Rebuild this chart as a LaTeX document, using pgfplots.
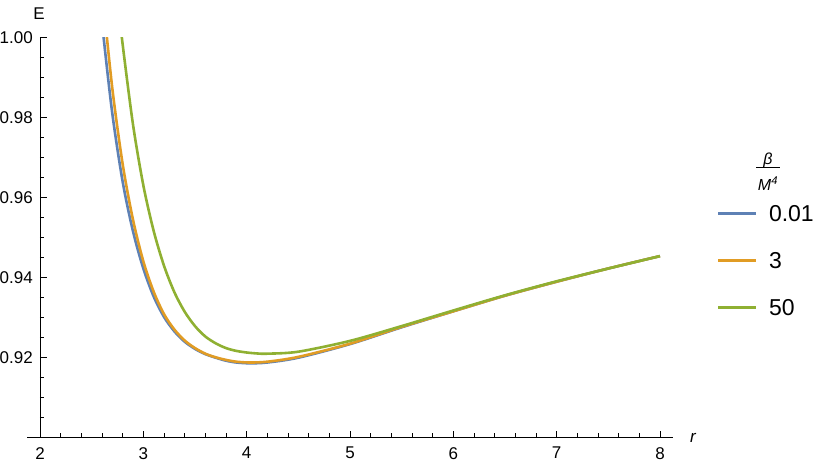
\documentclass[border=0pt]{standalone}
\usepackage{fontspec}
\setmainfont{Liberation Sans}
\usepackage{pgfplots}
\pgfplotsset{compat=1.18}
\definecolor{mblue}{rgb}{0.368417,0.506779,0.709798}
\definecolor{morange}{rgb}{0.880722,0.611041,0.142051}
\definecolor{mgreen}{rgb}{0.560181,0.691569,0.194885}
% legend key: a short line, then the value
\newcommand{\key}[2]{\textcolor{#1}{\rule[6.9pt]{38pt}{2.6pt}}\hspace{13pt}#2}

\begin{document}
\begin{tikzpicture}
\begin{axis}[
  at={(0pt,0pt)}, anchor=south west,
  scale only axis, width=633pt, height=400pt,
  xmin=2, xmax=8.126, ymin=0.9, ymax=1.0,
  axis x line=bottom, axis y line=left,
  axis line style={-, line width=0.9pt},
  tick align=inside,
  major tick length=7pt, minor tick length=4.3pt,
  every tick/.style={black, line width=0.7pt},
  xtick={2,3,4,5,6,7,8}, minor x tick num=4,
  ytick={0.92,0.94,0.96,0.98,1.00},
  minor ytick={0.905,0.91,0.915,0.925,0.93,0.935,0.945,0.95,0.955,0.965,0.97,0.975,0.985,0.99,0.995},
  /pgf/number format/assume math mode=true,
  yticklabel style={/pgf/number format/fixed, /pgf/number format/precision=2,
    /pgf/number format/fixed zerofill, anchor=east, inner sep=0pt, xshift=-7pt},
  xticklabel style={anchor=north, inner sep=0pt, yshift=-9.3pt},
  tick label style={font=\fontsize{17}{17}\selectfont},
  xlabel={\textit{r}}, ylabel={E},
  every axis x label/.style={at={(axis description cs:1,0)}, anchor=base west,
    inner sep=0pt, xshift=17pt, yshift=-5.3pt, font=\fontsize{17}{17}\selectfont},
  every axis y label/.style={at={(axis description cs:0,1)}, anchor=base,
    inner sep=0pt, xshift=-1pt, yshift=17.7pt, font=\fontsize{17}{17}\selectfont},
  legend style={at={(axis description cs:1.0711,0.5818)}, anchor=north west,
    draw=none, fill=none, inner sep=0pt, outer sep=0pt,
    font=\fontsize{23}{23}\selectfont, row sep=30.5pt, column sep=0pt,
    nodes={inner sep=0pt, text height=16.5pt, text depth=0pt}},
  legend cell align=left,
  legend image code/.code={},
]
\addplot[mblue, line width=2.6pt, smooth] table {
2.58  1.0095
2.612 1.0009
2.70  0.9810
2.80  0.9640
2.90  0.9516
3.00  0.9423
3.10  0.9353
3.20  0.9302
3.30  0.9266
3.40  0.9240
3.50  0.9222
3.60  0.9209
3.70  0.9200
3.80  0.91925
3.90  0.9188
4.03  0.9186
4.20  0.9188
4.50  0.9200
5.00  0.9234
5.50  0.9276
6.00  0.9316
6.50  0.9355
7.00  0.9390
7.50  0.9423
8.00  0.9454
};
\addlegendentry{\key{mblue}{0.01}}
\addplot[morange, line width=2.6pt, smooth] table {
2.58  1.0187
2.612 1.0093
2.70  0.9873
2.80  0.9684
2.90  0.9545
3.00  0.9441
3.10  0.9365
3.20  0.9309
3.30  0.92705
3.40  0.9243
3.50  0.9224
3.60  0.9210
3.70  0.9201
3.80  0.91945
3.90  0.9190
4.03  0.9188
4.20  0.9190
4.50  0.9202
5.00  0.9235
5.50  0.9277
6.00  0.9316
6.50  0.9355
7.00  0.9390
7.50  0.9423
8.00  0.9454
};
\addlegendentry{\key{morange}{3}}
\addplot[mgreen, line width=2.6pt, smooth] table {
2.76  1.0077
2.80  0.9983
2.90  0.9783
3.00  0.9631
3.10  0.9517
3.20  0.9430
3.30  0.9364
3.40  0.9315
3.50  0.9279
3.60  0.9253
3.70  0.9236
3.80  0.9224
3.90  0.9217
4.00  0.9213
4.10  0.92106
4.20  0.9210
4.50  0.9215
5.00  0.9242
5.50  0.9279
6.00  0.9318
6.50  0.9356
7.00  0.9391
7.50  0.9423
8.00  0.9454
};
\addlegendentry{\key{mgreen}{50}}
\end{axis}
\draw[line width=0.9pt] (-13pt,0pt) -- (0pt,0pt);
\begin{scope}[font=\fontsize{16}{16}\selectfont]
\node[anchor=base, inner sep=0pt] at (728pt,272.7pt) {\itshape β};
\draw[line width=0.8pt] (716pt,270.4pt) -- (740pt,270.4pt);
\node[anchor=base, inner sep=0pt] at (728pt,247pt) {\itshape M\textsuperscript{4}};
\end{scope}
\pgfresetboundingbox
\useasboundingbox (-40pt,-30.3pt) rectangle (790pt,437.7pt);
\end{tikzpicture}
\end{document}
